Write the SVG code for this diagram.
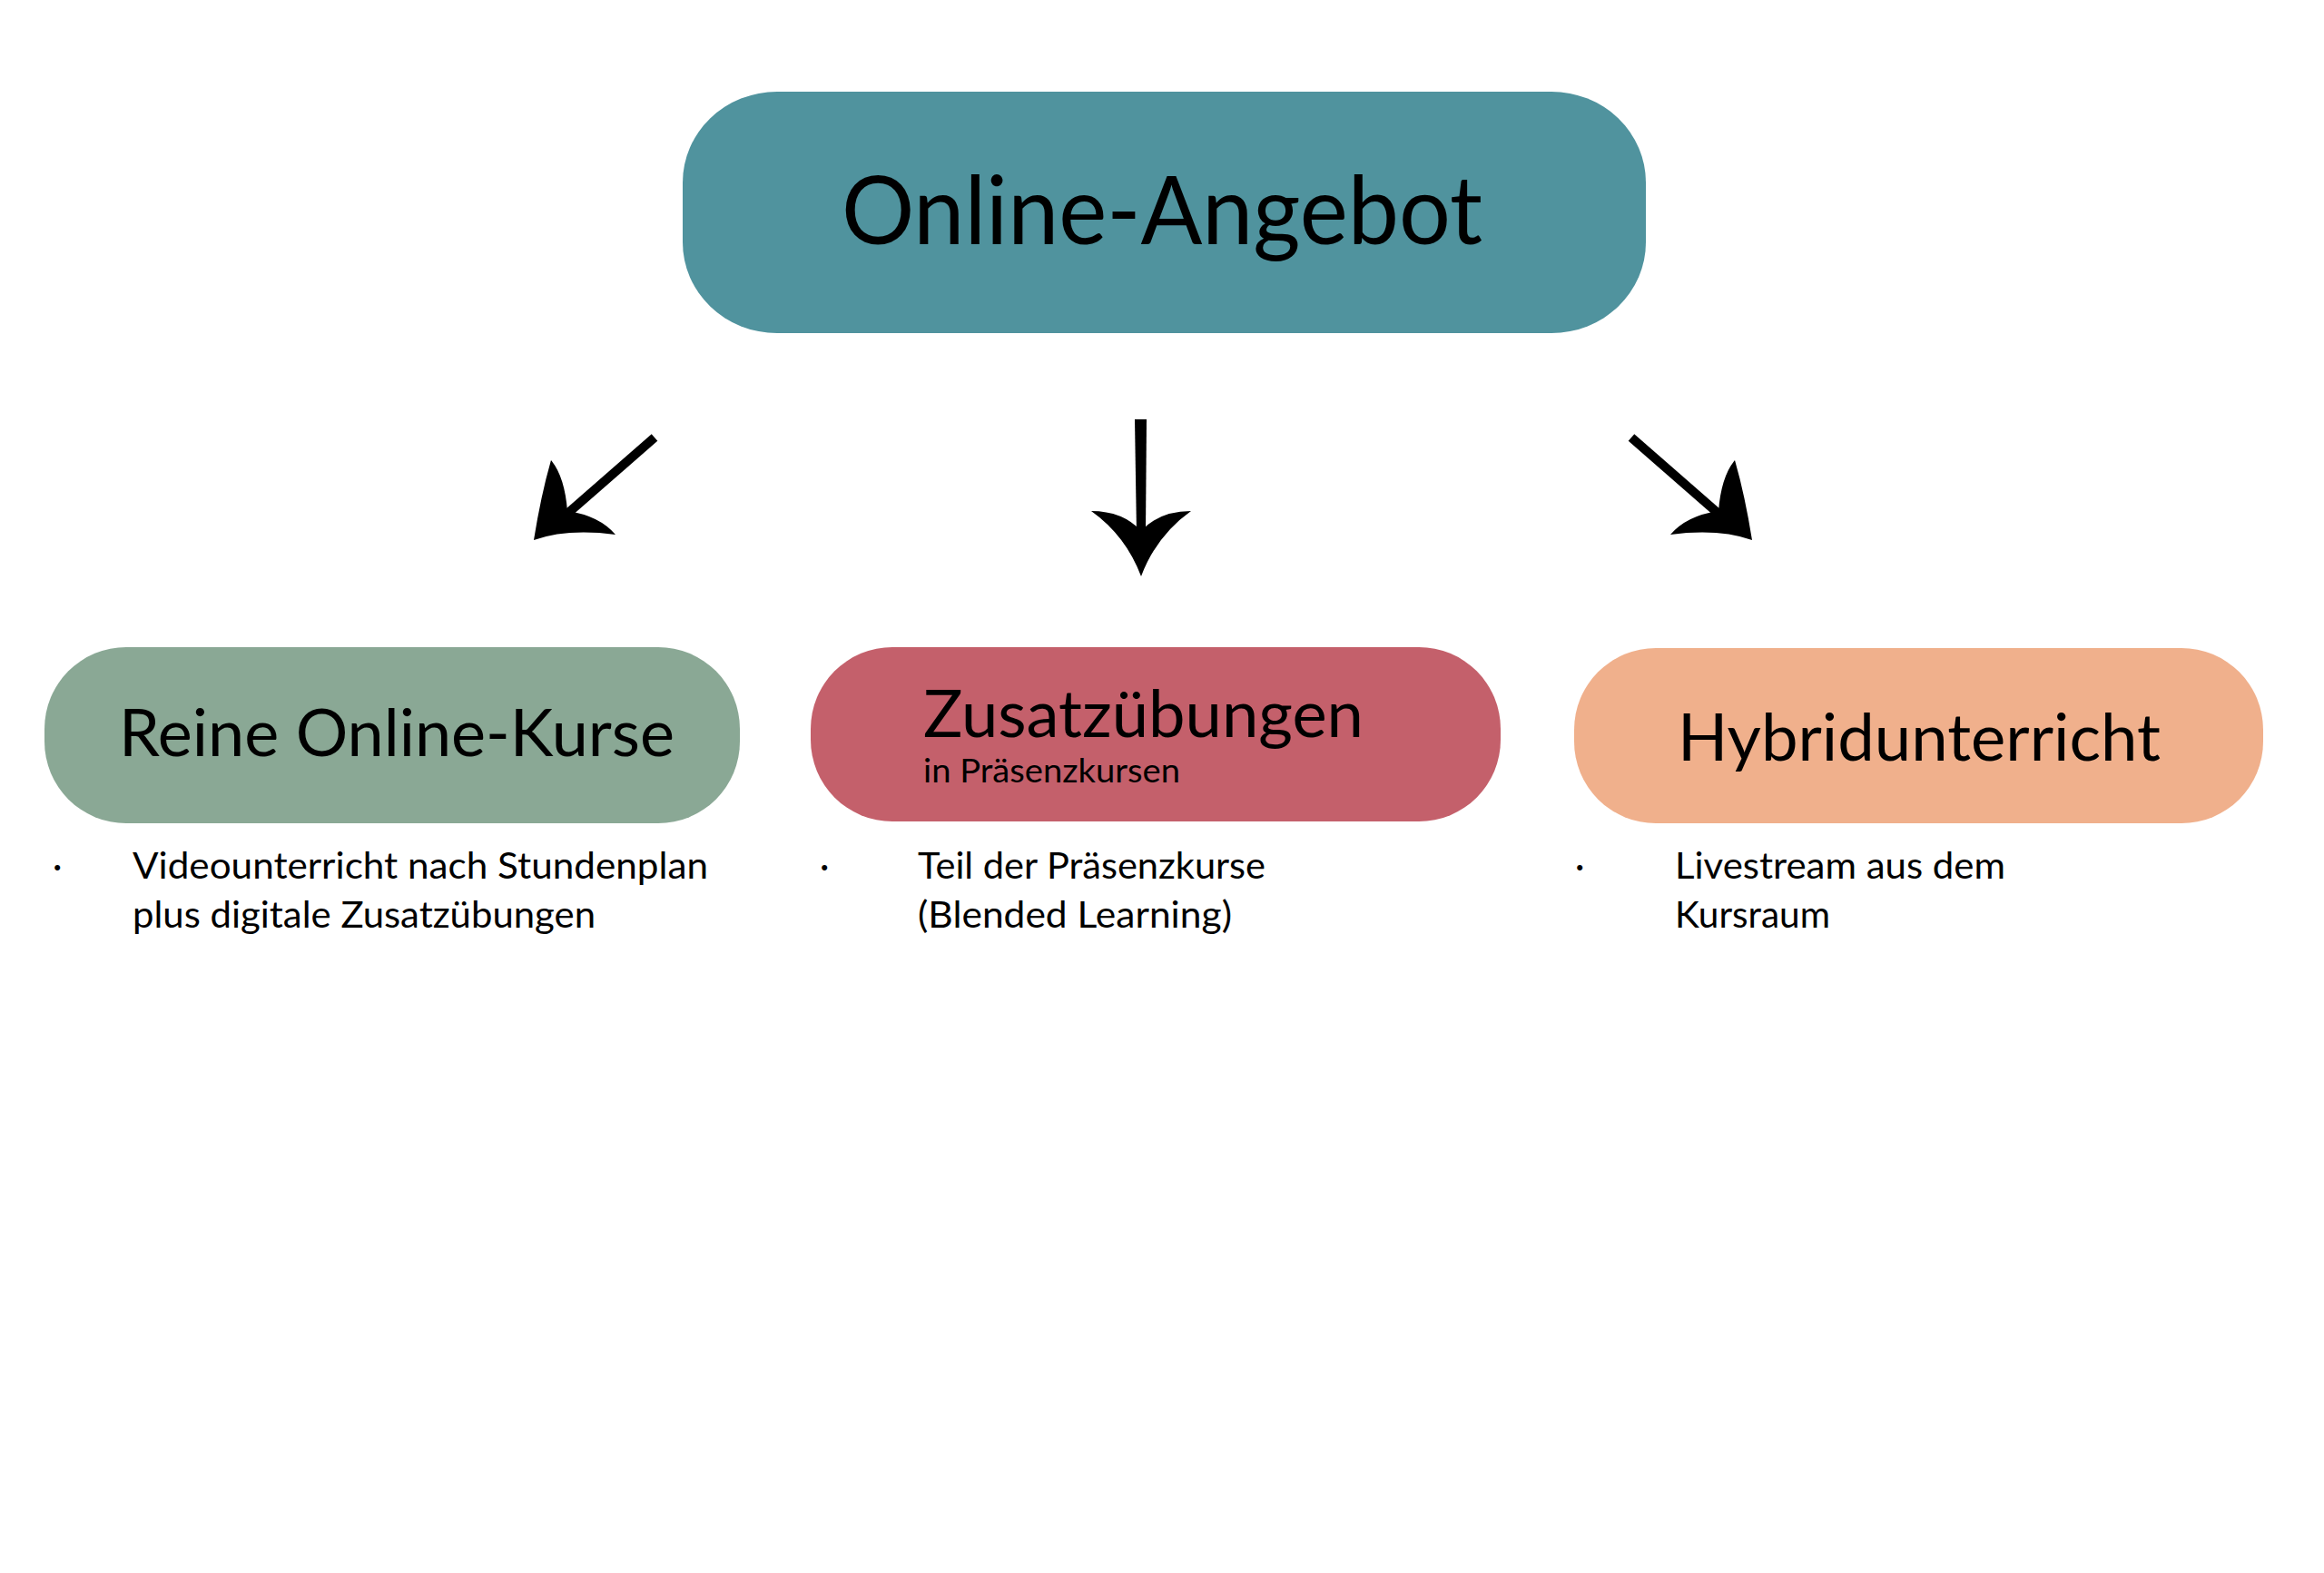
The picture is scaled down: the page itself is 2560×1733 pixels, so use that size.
<svg xmlns="http://www.w3.org/2000/svg" width="2560" height="1733" viewBox="0 0 2560 1733">
<style>
text{font-family:Lato,"Liberation Sans",sans-serif;fill:#000}
.title{font-size:104px}
.lbl{font-size:72px}
.sub{font-size:36px}
.bul{font-size:40px}
.arrow{fill:#000}
.shaft{stroke:#000;stroke-width:10;fill:none}
</style>
<rect width="2560" height="1733" fill="#fff"/>
<g id="node-online-angebot">
<rect x="752" y="101" width="1061" height="266" rx="104" ry="100" fill="#50939E"/>
<text class="title" x="927" y="269" textLength="706" lengthAdjust="spacingAndGlyphs">Online-Angebot</text>
</g>
<g id="node-reine-online-kurse">
<rect x="49" y="713" width="766" height="194" rx="90" ry="90" fill="#8AA895"/>
<text class="lbl" x="131" y="833" textLength="612" lengthAdjust="spacingAndGlyphs">Reine Online-Kurse</text>
<text class="bul" x="58" y="968">·</text>
<text class="bul" x="146" y="968" textLength="634" lengthAdjust="spacingAndGlyphs">Videounterricht nach Stundenplan</text>
<text class="bul" x="146" y="1022" textLength="510" lengthAdjust="spacingAndGlyphs">plus digitale Zusatzübungen</text>
</g>
<g id="node-zusatzuebungen">
<rect x="893" y="713" width="760" height="192" rx="90" ry="90" fill="#C4606B"/>
<text class="lbl" x="1017" y="812" textLength="485" lengthAdjust="spacingAndGlyphs">Zusatzübungen</text>
<text class="sub" x="1017" y="862" textLength="283" lengthAdjust="spacingAndGlyphs">in Präsenzkursen</text>
<text class="bul" x="903" y="968">·</text>
<text class="bul" x="1011" y="968" textLength="383" lengthAdjust="spacingAndGlyphs">Teil der Präsenzkurse</text>
<text class="bul" x="1011" y="1022" textLength="346" lengthAdjust="spacingAndGlyphs">(Blended Learning)</text>
</g>
<g id="node-hybridunterricht">
<rect x="1734" y="714" width="759" height="193" rx="90" ry="90" fill="#F0B08C"/>
<text class="lbl" x="1848" y="838" textLength="532" lengthAdjust="spacingAndGlyphs">Hybridunterricht</text>
<text class="bul" x="1735" y="968">·</text>
<text class="bul" x="1845" y="968" textLength="364" lengthAdjust="spacingAndGlyphs">Livestream aus dem</text>
<text class="bul" x="1845" y="1022" textLength="171" lengthAdjust="spacingAndGlyphs">Kursraum</text>
</g>
<g id="connectors">
<g id="arrow-left">
<line class="shaft" x1="721" y1="482" x2="626" y2="565"/>
<path class="arrow" d="M588,595 Q596,545 607,507 Q622,525 625,563 Q660,568 678,589 Q625,582 588,595 Z"/>
</g>
<g id="arrow-middle">
<path class="arrow" d="M1250,462 L1263,462 L1262,588 L1252,588 Z"/>
<path class="arrow" d="M1257,635 Q1240,590 1202,563 Q1237,563 1257,585 Q1277,563 1312,563 Q1274,590 1257,635 Z"/>
</g>
<g id="arrow-right">
<line class="shaft" x1="1797" y1="482" x2="1892" y2="565"/>
<path class="arrow" d="M1930,595 Q1922,545 1911,507 Q1896,525 1893,563 Q1858,568 1840,589 Q1893,582 1930,595 Z"/>
</g>
</g>
</svg>
